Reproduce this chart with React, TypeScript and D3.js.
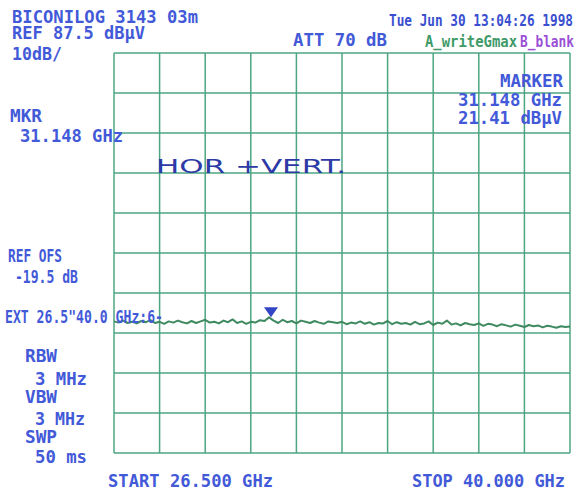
import React from "react";
import * as d3 from "d3";

// Sweep settings
const startGHz = 26.5;
const stopGHz = 40.0;
const refLevel = 87.5; // dBµV at top graticule line
const dbPerDiv = 10;
const divisions = 10;

// Trace A (max hold), dBµV per sweep point
const traceLevels = [
  20.4, 20.1, 20.6, 20.0, 20.3, 19.9, 20.5, 20.2, 20.7, 20.0,
  20.3, 19.8, 20.4, 20.1, 20.6, 20.2, 19.9, 20.5, 20.0, 20.4,
  20.8, 20.1, 20.3, 19.9, 20.6, 20.2, 20.9, 20.0, 20.4, 19.8,
  20.3, 20.1, 20.7, 20.5, 21.41, 20.6, 20.0, 20.8, 20.2, 20.5,
  19.9, 20.6, 20.3, 20.0, 20.5, 20.1, 19.8, 20.4, 20.2, 20.0,
  20.3, 19.7, 20.1, 19.9, 20.4, 19.8, 20.2, 19.6, 20.0, 19.9,
  20.5, 19.7, 20.2, 19.8, 20.0, 19.6, 20.3, 19.7, 19.9, 20.4,
  19.5, 20.1, 19.8, 20.6, 19.6, 19.9, 19.4, 20.0, 19.7, 19.5,
  19.9, 19.3, 19.8, 19.6, 19.2, 19.7, 19.4, 19.1, 19.6, 19.3,
  19.0, 19.5, 19.2, 19.4, 18.9, 19.3, 19.1, 18.8, 19.2, 19.0, 19.1,
];

// Marker readout
const markerGHz = 31.148;
const markerLevel = 21.41;

// Annotation lines: [text, x, baseline, width, anchor]
type Ann = [string, number, number, number, "start" | "end"];
const headerLines: Ann[] = [
  ["BICONILOG 3143 03m", 12, 23, 186, "start"],
  ["REF 87.5 dBµV", 12, 39, 133, "start"],
  ["10dB/", 12, 60, 50, "start"],
  ["ATT 70 dB", 293, 46, 94, "start"],
];
const sideLines: Ann[] = [
  ["MKR", 10, 122, 32, "start"],
  ["31.148 GHz", 20, 142, 103, "start"],
  ["REF OFS", 8, 262, 54, "start"],
  ["-19.5 dB", 15, 283, 63, "start"],
  ['EXT 26.5"40.0 GHz:6-', 5, 323, 158, "start"],
  ["RBW", 25, 362, 32, "start"],
  ["3 MHz", 35, 385, 52, "start"],
  ["VBW", 25, 403, 32, "start"],
  ["3 MHz", 35, 425, 50, "start"],
  ["SWP", 25, 443, 32, "start"],
  ["50 ms", 35, 463, 52, "start"],
];
const markerLines: Ann[] = [
  ["MARKER", 563, 87, 63, "end"],
  ["31.148 GHz", 562, 106, 104, "end"],
  ["21.41 dBµV", 562, 124, 104, "end"],
];
const footerLines: Ann[] = [
  ["START 26.500 GHz", 108, 487, 165, "start"],
  ["STOP 40.000 GHz", 412, 487, 153, "start"],
];

const W = 576;
const H = 499;
const plot = { left: 114, right: 570, top: 53, bottom: 453 };

const ink = "#4259d8";
const gridColor = "#3a9c74";
const traceColor = "#3f8a60";
const font = "'DejaVu Sans Mono', monospace";

function Label({ a, color = ink, size = 18 }: { a: Ann; color?: string; size?: number }) {
  const [text, x, y, w, anchor] = a;
  return (
    <text
      x={x}
      y={y}
      textAnchor={anchor}
      textLength={w}
      lengthAdjust="spacingAndGlyphs"
      fill={color}
      fontFamily={font}
      fontWeight="bold"
      fontSize={size}
    >
      {text}
    </text>
  );
}

export default function App() {
  const x = d3.scaleLinear().domain([startGHz, stopGHz]).range([plot.left, plot.right]);
  const y = d3
    .scaleLinear()
    .domain([refLevel - dbPerDiv * divisions, refLevel])
    .range([plot.bottom, plot.top]);

  const step = (stopGHz - startGHz) / (traceLevels.length - 1);
  const line = d3
    .line<number>()
    .x((_, i) => x(startGHz + i * step))
    .y((d) => y(d));

  const vTicks = d3.range(divisions + 1).map((i) => startGHz + (i * (stopGHz - startGHz)) / divisions);
  const hTicks = d3.range(divisions + 1).map((i) => refLevel - i * dbPerDiv);

  const mx = x(markerGHz);
  const my = y(markerLevel);

  return (
    <svg width={W} height={H} style={{ position: "absolute", left: 0, top: 0, background: "#fff" }}>
      <rect width={W} height={H} fill="#fff" />
      <g stroke={gridColor} strokeWidth={1.5} opacity={0.9}>
        {vTicks.map((t, i) => (
          <line key={"v" + i} x1={x(t)} x2={x(t)} y1={plot.top} y2={plot.bottom} />
        ))}
        {hTicks.map((t, i) => (
          <line key={"h" + i} x1={plot.left} x2={plot.right} y1={y(t)} y2={y(t)} />
        ))}
      </g>

      <path d={line(traceLevels) || ""} fill="none" stroke={traceColor} strokeWidth={2} strokeLinejoin="round" />

      <path
        d={`M${mx},${my} L${mx - 7},${my - 10} L${mx + 7},${my - 10} Z`}
        fill="#3344c4"
      />

      {headerLines.map((a, i) => (
        <Label key={"hd" + i} a={a} />
      ))}
      <Label a={["Tue Jun 30 13:04:26 1998", 389, 26, 184, "start"]} color="#3a4fcf" size={15} />
      <Label a={["A_writeGmax", 425, 47, 92, "start"]} color="#3f9a6a" size={15} />
      <Label a={["B_blank", 520, 47, 54, "start"]} color="#9a4fd6" size={15} />
      {sideLines.map((a, i) => (
        <Label key={"sd" + i} a={a} />
      ))}
      {markerLines.map((a, i) => (
        <Label key={"mk" + i} a={a} />
      ))}
      {footerLines.map((a, i) => (
        <Label key={"ft" + i} a={a} />
      ))}

      <text
        x={156}
        y={173}
        textLength={190}
        lengthAdjust="spacingAndGlyphs"
        fill="#2d3aa6"
        fontFamily="'DejaVu Sans', sans-serif"
        fontSize={19}
        fontWeight="normal"
      >
        HOR +VERT.
      </text>
    </svg>
  );
}
